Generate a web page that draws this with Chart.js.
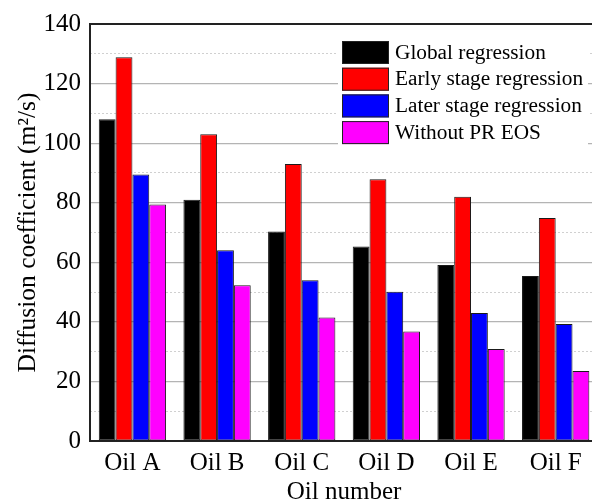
<!DOCTYPE html>
<html>
<head>
<meta charset="utf-8">
<script src="https://cdn.jsdelivr.net/npm/chart.js@4.4.0/dist/chart.umd.min.js"></script>
<style>
  html, body { margin: 0; padding: 0; background: #fff; overflow: hidden; }
  #wrap { width: 598px; height: 503px; }
</style>
</head>
<body>
<div id="wrap"><canvas id="chart"></canvas></div>
<script>
const categories = ['Oil A', 'Oil B', 'Oil C', 'Oil D', 'Oil E', 'Oil F'];
const seriesNames = ['Global regression', 'Early stage regression', 'Later stage regression', 'Without PR EOS'];
const seriesColors = ['#000000', '#ff0000', '#0000ff', '#ff00ff'];
const globalReg = [108, 81, 70.3, 65.3, 59.1, 55.4];
const earlyReg = [128.8, 103, 93, 87.9, 82, 74.9];
const laterReg = [89.5, 64, 54, 50.1, 43, 39.3];
const withoutPR = [79.4, 52.3, 41.5, 36.8, 30.9, 23.5];
const yTicks = [0, 20, 40, 60, 80, 100, 120, 140];

const serif = "'Liberation Serif', 'Times New Roman', serif";

// top frame line + legend box inside the plot
const extras = {
  id: 'extras',
  afterDraw(chart) {
    const c = chart.ctx, a = chart.chartArea;
    c.save();
    c.strokeStyle = '#222';
    c.lineWidth = 2;
    c.beginPath();
    c.moveTo(a.left - 1, a.top);
    c.lineTo(a.right + 2, a.top);
    c.stroke();

    // legend
    const x0 = 338, y0 = 39;
    c.fillStyle = '#fff';
    c.fillRect(x0, y0, 250, 110);
    c.font = '21.3px ' + serif;
    c.textBaseline = 'middle';
    chart.data.datasets.forEach((ds, i) => {
      const y = y0 + 2 + i * 26.7;
      c.fillStyle = ds.backgroundColor;
      c.fillRect(x0 + 4, y, 47, 23);
      c.strokeStyle = '#222';
      c.lineWidth = 1;
      c.strokeRect(x0 + 4.5, y + 0.5, 46, 22);
      c.fillStyle = '#000';
      c.fillText(ds.label, x0 + 57, y + 12);
    });
    c.restore();
  }
};

new Chart(document.getElementById('chart'), {
  type: 'bar',
  data: {
    labels: categories,
    datasets: [globalReg, earlyReg, laterReg, withoutPR].map((d, i) => ({
      label: seriesNames[i],
      data: d,
      backgroundColor: seriesColors[i],
      borderColor: '#1a1a1a',
      borderWidth: 1,
      borderSkipped: false,
      categoryPercentage: 0.795,
      barPercentage: 1.0
    }))
  },
  options: {
    responsive: true,
    maintainAspectRatio: false,
    animation: false,
    layout: { padding: { top: 23, left: 13, right: 0, bottom: 0 } },
    plugins: { legend: { display: false }, tooltip: { enabled: false } },
    scales: {
      x: {
        grid: { display: false, drawTicks: false },
        border: { color: '#222', width: 2 },
        ticks: { color: '#000', padding: 7, font: { family: serif, size: 25 } },
        title: {
          display: true, text: 'Oil number', color: '#000',
          padding: { top: -8, bottom: -4 },
          font: { family: serif, size: 25 }
        }
      },
      y2: {
        position: 'left',
        min: 0, max: 140,
        ticks: { display: false, stepSize: 10 },
        border: { display: false, dash: [2, 2] },
        grid: {
          drawTicks: false,
          color: ctx => (ctx.tick.value % 20 === 0 ? 'rgba(0,0,0,0)' : '#d0d0d0'),
          lineWidth: 1
        }
      },
      y: {
        position: 'left',
        min: 0, max: 140,
        afterBuildTicks: axis => { axis.ticks = yTicks.map(v => ({ value: v })); },
        border: { color: '#222', width: 2 },
        grid: {
          drawTicks: false,
          color: ctx => (ctx.tick.value === 0 ? 'rgba(0,0,0,0)' : '#b4b4b4'),
          lineWidth: 1.2
        },
        ticks: { color: '#000', padding: 9, font: { family: serif, size: 25 } },
        title: {
          display: true, text: 'Diffusion coefficient (m\u00b2/s)', color: '#000',
          padding: { top: 0, bottom: -9 },
          font: { family: serif, size: 25.5 }
        }
      }
    }
  },
  plugins: [extras]
});
</script>
</body>
</html>
